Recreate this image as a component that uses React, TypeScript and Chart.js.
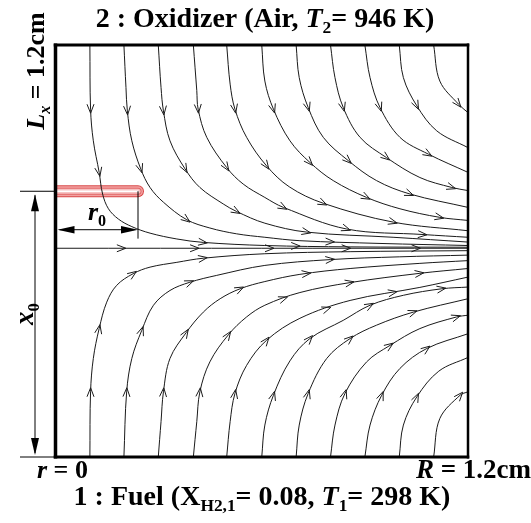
import React, { useEffect, useRef } from 'react';
import { Chart, registerables } from 'chart.js';

Chart.register(...registerables);

type Pt = [number, number];

// Geometry values (cm): r along x, axial position along y
const stagnationY = 0.608;
const tubeY = 0.774;
const tubeR = 0.24;
const r0ArrowY = 0.662;
const r0TickEndY = 0.636;

// Stagnation streamline along the axis plane
const stagnationLine: Pt[] = [[0, stagnationY], [1.2, stagnationY]];
const stagnationArrows: Pt[] = [[0.193, 0.608], [0.406, 0.608], [0.624, 0.608], [0.847, 0.608], [1.05, 0.608]];

// Oxidizer-side streamlines (enter from the top)
const oxStream01: Pt[] = [[0.1, 1.2], [0.102, 1.013], [0.11, 0.921], [0.127, 0.829], [0.137, 0.766], [0.154, 0.723], [0.183, 0.693], [0.222, 0.671], [0.275, 0.652], [0.353, 0.635], [0.43, 0.625], [0.609, 0.616], [0.857, 0.612], [1.2, 0.611]];
const oxArrows01: Pt[] = [[0.102, 1.013], [0.127, 0.829], [0.43, 0.625], [0.7, 0.614]];
const oxStream02: Pt[] = [[0.199, 1.2], [0.205, 1.076], [0.209, 1.008], [0.222, 0.921], [0.248, 0.839], [0.275, 0.785], [0.314, 0.742], [0.382, 0.691], [0.449, 0.667], [0.527, 0.65], [0.609, 0.64], [0.711, 0.63], [0.944, 0.622], [1.2, 0.616]];
const oxArrows02: Pt[] = [[0.209, 1.008], [0.248, 0.839], [0.382, 0.691], [0.8, 0.627]];
const oxStream03: Pt[] = [[0.299, 1.2], [0.307, 1.076], [0.314, 1.008], [0.333, 0.921], [0.377, 0.839], [0.42, 0.785], [0.488, 0.737], [0.527, 0.715], [0.609, 0.681], [0.731, 0.655], [0.982, 0.64], [1.2, 0.626]];
const oxArrows03: Pt[] = [[0.314, 1.008], [0.377, 0.839], [0.527, 0.715], [0.731, 0.655]];
const oxStream04: Pt[] = [[0.401, 1.2], [0.411, 1.067], [0.415, 1.013], [0.44, 0.931], [0.498, 0.843], [0.546, 0.795], [0.609, 0.756], [0.663, 0.727], [0.847, 0.664], [1.069, 0.648], [1.2, 0.64]];
const oxArrows04: Pt[] = [[0.415, 1.013], [0.498, 0.843], [0.663, 0.727], [0.847, 0.664], [1.069, 0.648]];
const oxStream05: Pt[] = [[0.498, 1.2], [0.508, 1.086], [0.522, 1.013], [0.556, 0.931], [0.614, 0.848], [0.68, 0.787], [0.779, 0.739], [0.983, 0.684], [1.2, 0.659]];
const oxArrows05: Pt[] = [[0.522, 1.013], [0.614, 0.848], [0.779, 0.739], [0.983, 0.684]];
const oxStream06: Pt[] = [[0.6, 1.2], [0.609, 1.095], [0.634, 1.013], [0.682, 0.921], [0.74, 0.858], [0.808, 0.805], [0.905, 0.756], [1.002, 0.723], [1.118, 0.698], [1.2, 0.689]];
const oxArrows06: Pt[] = [[0.634, 1.013], [0.74, 0.858], [0.905, 0.756], [1.118, 0.698]];
const oxStream07: Pt[] = [[0.7, 1.2], [0.709, 1.105], [0.735, 1.018], [0.779, 0.931], [0.852, 0.863], [0.934, 0.805], [1.031, 0.766], [1.2, 0.727]];
const oxArrows07: Pt[] = [[0.735, 1.018], [0.852, 0.863], [1.031, 0.766]];
const oxStream08: Pt[] = [[0.8, 1.2], [0.813, 1.105], [0.837, 1.018], [0.886, 0.931], [0.963, 0.872], [1.06, 0.814], [1.153, 0.785], [1.2, 0.776]];
const oxArrows08: Pt[] = [[0.837, 1.018], [0.963, 0.872], [1.153, 0.785]];
const oxStream09: Pt[] = [[0.9, 1.2], [0.915, 1.105], [0.944, 1.018], [1.002, 0.931], [1.085, 0.882], [1.2, 0.829]];
const oxArrows09: Pt[] = [[0.944, 1.018], [1.085, 0.882]];
const oxStream10: Pt[] = [[1.0, 1.2], [1.012, 1.105], [1.051, 1.023], [1.109, 0.95], [1.2, 0.901]];
const oxArrows10: Pt[] = [[1.051, 1.023]];
const oxStream11: Pt[] = [[1.1, 1.2], [1.118, 1.095], [1.172, 1.028], [1.2, 1.003]];
const oxArrows11: Pt[] = [[1.172, 1.028]];

// Fuel-side streamlines (enter from the bottom)
const fuStream01: Pt[] = [[0.1, 0], [0.102, 0.19], [0.11, 0.287], [0.127, 0.374], [0.149, 0.451], [0.178, 0.5], [0.226, 0.534], [0.275, 0.553], [0.353, 0.567], [0.43, 0.579], [0.609, 0.592], [0.857, 0.598], [1.2, 0.601]];
const fuArrows01: Pt[] = [[0.102, 0.19], [0.127, 0.374], [0.226, 0.534], [0.43, 0.579]];
const fuStream02: Pt[] = [[0.199, 0], [0.207, 0.19], [0.222, 0.287], [0.251, 0.369], [0.285, 0.442], [0.333, 0.485], [0.391, 0.509], [0.469, 0.529], [0.609, 0.558], [0.8, 0.575], [1.0, 0.583], [1.2, 0.588]];
const fuArrows02: Pt[] = [[0.207, 0.19], [0.251, 0.369], [0.391, 0.509], [0.8, 0.575]];
const fuStream03: Pt[] = [[0.299, 0], [0.307, 0.103], [0.314, 0.19], [0.333, 0.287], [0.38, 0.362], [0.43, 0.422], [0.479, 0.461], [0.537, 0.49], [0.609, 0.511], [0.711, 0.532], [0.857, 0.549], [1.06, 0.564], [1.2, 0.572]];
const fuArrows03: Pt[] = [[0.314, 0.19], [0.38, 0.362], [0.537, 0.49], [0.731, 0.536]];
const fuStream04: Pt[] = [[0.401, 0], [0.411, 0.103], [0.42, 0.19], [0.449, 0.277], [0.503, 0.356], [0.556, 0.408], [0.609, 0.442], [0.711, 0.479], [0.857, 0.508], [1.06, 0.535], [1.2, 0.549]];
const fuArrows04: Pt[] = [[0.42, 0.19], [0.503, 0.356], [0.663, 0.465], [0.857, 0.508], [1.06, 0.535]];
const fuStream05: Pt[] = [[0.498, 0], [0.508, 0.103], [0.522, 0.185], [0.556, 0.267], [0.614, 0.34], [0.711, 0.404], [0.857, 0.456], [1.06, 0.494], [1.2, 0.524]];
const fuArrows05: Pt[] = [[0.522, 0.185], [0.614, 0.34], [0.789, 0.435], [0.982, 0.482]];
const fuStream06: Pt[] = [[0.6, 0], [0.609, 0.093], [0.634, 0.18], [0.682, 0.28], [0.74, 0.345], [0.837, 0.398], [0.915, 0.442], [1.012, 0.471], [1.124, 0.49], [1.2, 0.495]];
const fuArrows06: Pt[] = [[0.634, 0.18], [0.74, 0.345], [0.915, 0.442], [1.124, 0.49]];
const fuStream07: Pt[] = [[0.7, 0], [0.709, 0.093], [0.735, 0.185], [0.789, 0.287], [0.857, 0.345], [0.934, 0.384], [1.041, 0.422], [1.2, 0.461]];
const fuArrows07: Pt[] = [[0.735, 0.185], [0.857, 0.345], [1.041, 0.422]];
const fuStream08: Pt[] = [[0.8, 0], [0.813, 0.093], [0.842, 0.185], [0.905, 0.277], [0.973, 0.325], [1.06, 0.374], [1.167, 0.408], [1.2, 0.413]];
const fuArrows08: Pt[] = [[0.842, 0.185], [0.973, 0.325], [1.167, 0.408]];
const fuStream09: Pt[] = [[0.9, 0], [0.915, 0.093], [0.949, 0.18], [1.002, 0.258], [1.08, 0.316], [1.2, 0.359]];
const fuArrows09: Pt[] = [[0.949, 0.18], [1.08, 0.316]];
const fuStream10: Pt[] = [[1.0, 0], [1.012, 0.093], [1.051, 0.175], [1.115, 0.25], [1.2, 0.29]];
const fuArrows10: Pt[] = [[1.051, 0.175]];
const fuStream11: Pt[] = [[1.1, 0], [1.118, 0.112], [1.177, 0.18], [1.2, 0.19]];
const fuArrows11: Pt[] = [[1.177, 0.18]];

const streamlines: { pts: Pt[]; arrows: Pt[] }[] = [
  { pts: stagnationLine, arrows: stagnationArrows },
  { pts: oxStream01, arrows: oxArrows01 },
  { pts: oxStream02, arrows: oxArrows02 },
  { pts: oxStream03, arrows: oxArrows03 },
  { pts: oxStream04, arrows: oxArrows04 },
  { pts: oxStream05, arrows: oxArrows05 },
  { pts: oxStream06, arrows: oxArrows06 },
  { pts: oxStream07, arrows: oxArrows07 },
  { pts: oxStream08, arrows: oxArrows08 },
  { pts: oxStream09, arrows: oxArrows09 },
  { pts: oxStream10, arrows: oxArrows10 },
  { pts: oxStream11, arrows: oxArrows11 },
  { pts: fuStream01, arrows: fuArrows01 },
  { pts: fuStream02, arrows: fuArrows02 },
  { pts: fuStream03, arrows: fuArrows03 },
  { pts: fuStream04, arrows: fuArrows04 },
  { pts: fuStream05, arrows: fuArrows05 },
  { pts: fuStream06, arrows: fuArrows06 },
  { pts: fuStream07, arrows: fuArrows07 },
  { pts: fuStream08, arrows: fuArrows08 },
  { pts: fuStream09, arrows: fuArrows09 },
  { pts: fuStream10, arrows: fuArrows10 },
  { pts: fuStream11, arrows: fuArrows11 },
];

type Seg = { t: string; i?: boolean; s?: boolean };
const FAMILY = '"Liberation Serif", "Times New Roman", serif';
function segFont(seg: Seg, size: number) {
  const sz = seg.s ? size * 0.62 : size;
  return `${seg.i ? 'italic ' : ''}bold ${sz}px ${FAMILY}`;
}
function drawRich(ctx: CanvasRenderingContext2D, segs: Seg[], x: number, y: number, size: number, align: 'left' | 'center' | 'right') {
  let w = 0;
  const widths = segs.map((s) => {
    ctx.font = segFont(s, size);
    const m = ctx.measureText(s.t).width;
    w += m;
    return m;
  });
  let cx = align === 'center' ? x - w / 2 : align === 'right' ? x - w : x;
  ctx.textBaseline = 'alphabetic';
  ctx.textAlign = 'left';
  segs.forEach((s, k) => {
    ctx.font = segFont(s, size);
    ctx.fillText(s.t, cx, s.s ? y + size * 0.22 : y);
    cx += widths[k];
  });
}

function filledHead(ctx: CanvasRenderingContext2D, tx: number, ty: number, dx: number, dy: number, len: number, half: number) {
  const bx = tx - dx * len, by = ty - dy * len;
  ctx.beginPath();
  ctx.moveTo(tx, ty);
  ctx.lineTo(bx - dy * half, by + dx * half);
  ctx.lineTo(bx + dy * half, by - dx * half);
  ctx.closePath();
  ctx.fill();
}

function seg(ctx: CanvasRenderingContext2D, x1: number, y1: number, x2: number, y2: number, w: number) {
  ctx.lineWidth = w;
  ctx.beginPath();
  ctx.moveTo(x1, y1);
  ctx.lineTo(x2, y2);
  ctx.stroke();
}

const decorPlugin = {
  id: 'decor',
  beforeDatasetsDraw(chart: any) {
    const { ctx, scales } = chart;
    const x = scales.x, y = scales.y;
    const ty = y.getPixelForValue(tubeY);
    const x0 = x.getPixelForValue(0);
    const x1 = x.getPixelForValue(tubeR);
    const layers: [number, string][] = [
      [12, '#d94848'],
      [10, '#f2a2a2'],
      [7, '#e26666'],
      [5, '#f6c2c2'],
      [1.5, '#ffffff'],
    ];
    ctx.save();
    layers.forEach(([w, c]) => {
      ctx.strokeStyle = c;
      ctx.fillStyle = c;
      ctx.lineCap = 'butt';
      seg(ctx, x0, ty, x1, ty, w);
      ctx.beginPath();
      ctx.arc(x1, ty, w / 2, -Math.PI / 2, Math.PI / 2);
      ctx.fill();
    });
    ctx.restore();
  },
  afterDatasetsDraw(chart: any) {
    const { ctx, chartArea: a, scales } = chart;
    const x = scales.x, y = scales.y;
    ctx.save();
    // streamline arrowheads
    ctx.strokeStyle = '#1a1a1a';
    ctx.lineWidth = 1;
    streamlines.forEach((s) => {
      const px = s.pts.map(([u, v]) => [x.getPixelForValue(u), y.getPixelForValue(v)]);
      s.arrows.forEach(([u, v]) => {
        const ax = x.getPixelForValue(u), ay = y.getPixelForValue(v);
        let best = Infinity, dx = 1, dy = 0, fx = ax, fy = ay;
        for (let k = 0; k < px.length - 1; k++) {
          const [x1, y1] = px[k];
          const [x2, y2] = px[k + 1];
          const sx = x2 - x1, sy = y2 - y1;
          const L2 = sx * sx + sy * sy || 1;
          let t = ((ax - x1) * sx + (ay - y1) * sy) / L2;
          t = Math.max(0, Math.min(1, t));
          const qx = x1 + t * sx, qy = y1 + t * sy;
          const d = (qx - ax) ** 2 + (qy - ay) ** 2;
          if (d < best) {
            best = d;
            const L = Math.sqrt(L2);
            dx = sx / L; dy = sy / L; fx = qx; fy = qy;
          }
        }
        const tipx = fx + dx * 4, tipy = fy + dy * 4;
        const bx = tipx - dx * 9, by = tipy - dy * 9;
        ctx.beginPath();
        ctx.moveTo(bx - dy * 3.5, by + dx * 3.5);
        ctx.lineTo(tipx, tipy);
        ctx.lineTo(bx + dy * 3.5, by - dx * 3.5);
        ctx.stroke();
      });
    });

    // frame
    ctx.strokeStyle = '#000';
    ctx.fillStyle = '#000';
    ctx.lineCap = 'butt';
    seg(ctx, a.left - 1.75, a.top, a.right + 1.25, a.top, 3);
    seg(ctx, a.left - 1.75, a.bottom, a.right + 1.25, a.bottom, 3);
    seg(ctx, a.right, a.top - 1.5, a.right, a.bottom + 1.5, 2.5);
    seg(ctx, a.left, a.top - 1.5, a.left, a.bottom + 1.5, 3.5);

    // x0 dimension
    const ty = y.getPixelForValue(tubeY);
    const tx = x.getPixelForValue(tubeR);
    const axX = 35;
    seg(ctx, 20, ty, a.left, ty, 1);
    seg(ctx, 20, a.bottom, a.left, a.bottom, 1);
    seg(ctx, axX, ty + 4, axX, a.bottom - 4, 1);
    filledHead(ctx, axX, ty + 3, 0, -1, 17, 4);
    filledHead(ctx, axX, a.bottom - 2, 0, 1, 17, 4);

    // r0 dimension
    const ry = y.getPixelForValue(r0ArrowY);
    seg(ctx, tx, ty, tx, y.getPixelForValue(r0TickEndY), 1);
    seg(ctx, a.left + 4, ry, tx - 4, ry, 1);
    filledHead(ctx, a.left + 2, ry, -1, 0, 17, 3.8);
    filledHead(ctx, tx, ry, 1, 0, 17, 3.8);

    // texts
    ctx.fillStyle = '#000';
    drawRich(ctx, [{ t: 'r', i: true }, { t: '0', s: true }], 88, 220, 26, 'left');
    drawRich(ctx, [{ t: '2 : Oxidizer (Air, ' }, { t: 'T', i: true }, { t: '2', s: true }, { t: '= 946 K)' }], 265, 27, 28, 'center');
    drawRich(ctx, [{ t: '1 : Fuel (X' }, { t: 'H2,1', s: true }, { t: '= 0.08, ' }, { t: 'T', i: true }, { t: '1', s: true }, { t: '= 298 K)' }], 262, 505, 28, 'center');
    drawRich(ctx, [{ t: 'r', i: true }, { t: ' = 0' }], 37, 478, 26, 'left');
    drawRich(ctx, [{ t: 'R', i: true }, { t: ' = 1.2cm' }], 531, 478, 27, 'right');

    ctx.save();
    ctx.translate(44, 71);
    ctx.rotate(-Math.PI / 2);
    drawRich(ctx, [{ t: 'L', i: true }, { t: 'x', i: true, s: true }, { t: ' = 1.2cm' }], 0, 0, 26, 'center');
    ctx.restore();

    ctx.save();
    ctx.translate(33, 314);
    ctx.rotate(-Math.PI / 2);
    drawRich(ctx, [{ t: 'x', i: true }, { t: '0', s: true }], 0, 0, 27, 'center');
    ctx.restore();

    ctx.restore();
  },
};

export default function App() {
  const ref = useRef<HTMLCanvasElement>(null);
  useEffect(() => {
    document.body.style.margin = '0';
    const chart = new Chart(ref.current as HTMLCanvasElement, {
      type: 'scatter',
      data: {
        datasets: streamlines.map((s, i) => ({
          label: `s${i}`,
          data: s.pts.map(([u, v]) => ({ x: u, y: v })),
          showLine: true,
          borderColor: '#1a1a1a',
          borderWidth: 1,
          pointRadius: 0,
          pointHoverRadius: 0,
          tension: 0.35,
          fill: false,
        })),
      },
      options: {
        animation: false,
        responsive: false,
        maintainAspectRatio: false,
        events: [],
        layout: { padding: { left: 55.5, right: 63, top: 45, bottom: 66 } },
        scales: {
          x: { type: 'linear', min: 0, max: 1.2, display: false },
          y: { type: 'linear', min: 0, max: 1.2, display: false },
        },
        plugins: { legend: { display: false }, tooltip: { enabled: false }, title: { display: false } },
      },
      plugins: [decorPlugin],
    } as any);
    return () => chart.destroy();
  }, []);
  return (
    <div style={{ width: 531, height: 523 }}>
      <canvas ref={ref} width={531} height={523} style={{ display: 'block', width: 531, height: 523 }} />
    </div>
  );
}
